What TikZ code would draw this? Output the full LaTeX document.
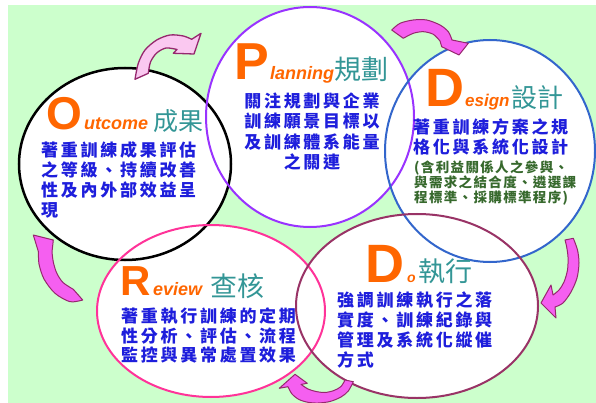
\documentclass[tikz,border=0pt]{standalone}
\usepackage{fontspec}
\setmainfont{Liberation Sans}
\newfontfamily\cjk{Noto Sans CJK TC}
\newfontfamily\cjkbody{Noto Sans CJK TC}[LetterSpace=16]
\newfontfamily\cjknote{Noto Sans CJK TC}[LetterSpace=10]
\definecolor{bggreen}{RGB}{204,255,204}
\definecolor{myorange}{RGB}{255,102,0}
\definecolor{myteal}{RGB}{51,150,150}
\definecolor{myblue}{RGB}{30,30,220}
\definecolor{mygreen}{RGB}{55,105,45}
\definecolor{rpurple}{RGB}{153,51,255}
\definecolor{rblue}{RGB}{51,102,204}
\definecolor{rpink}{RGB}{255,51,153}
\definecolor{rmaroon}{RGB}{153,51,102}
\definecolor{amag}{RGB}{245,95,240}
\definecolor{apale}{RGB}{250,200,240}
\definecolor{aedge}{RGB}{150,40,110}
\tikzset{
  bigl/.style={font=\bfseries\fontsize{#1}{#1}\selectfont, text=myorange, inner sep=0pt, anchor=base west},
  smalll/.style={font=\bfseries\itshape\fontsize{#1}{#1}\selectfont, text=myorange, inner sep=0pt, anchor=base west},
  ctitle/.style={font=\cjk\fontsize{#1}{#1}\selectfont, text=myteal, inner sep=0pt, anchor=base west},
  body/.style={font=\cjkbody\bfseries\fontsize{17}{17}\selectfont, text=myblue, inner sep=0pt, anchor=base west},
  bodyc/.style={body, anchor=base},
  note/.style={font=\cjknote\bfseries\fontsize{13.5}{13.5}\selectfont, text=mygreen, inner sep=0pt, anchor=base west},
  ringfill/.style={fill=white},
  ring/.style={line width=2pt},
  arr/.style={fill=amag, draw=aedge, line width=1pt, line join=round},
  arrpale/.style={fill=apale, draw=aedge, line width=1.3pt, line join=round},
}
\begin{document}
\begin{tikzpicture}[x=1pt,y=-1pt]
\useasboundingbox (0,0) rectangle (596,403);
\fill[bggreen] (8,5) rectangle (596,403);
% ellipse fills
\fill[ringfill] (125,164) ellipse [x radius=106, y radius=96];
\fill[ringfill] (310,117) ellipse [x radius=104, y radius=110];
\fill[ringfill] (490,151) ellipse [x radius=105, y radius=111];
\fill[ringfill] (211,311) ellipse [x radius=114, y radius=86];
\fill[ringfill] (417,306) ellipse [x radius=121, y radius=92];
% ellipse outlines
\draw[ring, line width=2.5pt, black] (125,164) ellipse [x radius=106, y radius=96];
\draw[ring, rpurple] (310,117) ellipse [x radius=104, y radius=110];
\draw[ring, rblue] (490,151) ellipse [x radius=105, y radius=111];
\draw[ring, rpink] (211,311) ellipse [x radius=114, y radius=86];
\draw[ring, rmaroon] (417,306) ellipse [x radius=121, y radius=92];
% arrows
\filldraw[arrpale] plot[smooth] coordinates {(135,79.3) (138.3,63.3) (145,50) (156.7,40) (170,35) (183.3,36) (191.7,39.3)}
  -- (201,33.3) -- (194,54) -- (173.3,53.3)
  -- plot[smooth] coordinates {(177,49.5) (166,48) (156.7,53) (150.5,62) (148.3,73.3)} -- cycle;
\filldraw[arr] plot[smooth] coordinates {(391.7,30) (400,23.3) (413.3,20) (426.7,20) (440,25) (448.3,31.7) (452,40)}
  -- (468.3,43.3) -- (459,55) -- (441.7,46.7)
  -- plot[smooth] coordinates {(440,41) (433.3,34.3) (423.3,31.7) (413.3,33.3) (403.3,38.3)} -- cycle;
\filldraw[arr] plot[smooth] coordinates {(573.3,238.3) (577.5,250) (579,263) (577,278) (571,292) (563,303) (555,307)}
  -- (556,318) -- (541,303) -- (551,285)
  -- plot[smooth] coordinates {(553,295) (559,290) (564,282) (567.5,270) (568,257) (566.5,246) (565,240)} -- cycle;
\filldraw[arr] plot[smooth] coordinates {(288,386.7) (292,394) (299,399.5) (308,402.3) (318,403) (330,401.5) (341,397) (348.3,391) (353.3,381.7)}
  -- plot[smooth] coordinates {(345,380) (341,386.5) (334,390.5) (325,392.5) (316,391.5) (308,389) (301,384.4)}
  -- (307.3,383.3) -- (295,374.3) -- (279.3,388.3) -- cycle;
\filldraw[arr] plot[smooth] coordinates {(82.7,300) (70,301.7) (55,293.3) (44,279) (39,264) (38.5,252)}
  -- (33.3,235) -- (53.3,240) -- (52,252)
  -- plot[smooth] coordinates {(52,252) (53.3,262) (56.7,273) (63,282.5) (73.3,289.3)} -- cycle;
% Outcome
\node[bigl=46] (oO) at (46,130) {O};
\node[smalll=18] (oU) at (84,130) {utcome};
\node[ctitle=25] (oC) at (153,131) {成果};
\node[body] (o1) at (41,156.5) {著重訓練成果評估};
\node[body] (o2) at (41,176.5) {之等級、持續改善};
\node[body] (o3) at (41,196.5) {性及內外部效益呈};
\node[body] (o4) at (41,216.5) {現};
% Planning
\node[bigl=52] (pP) at (234,80) {P};
\node[smalll=18] (pL) at (270,80) {lanning};
\node[ctitle=27] (pC) at (334,80) {規劃};
\node[bodyc] (p1) at (312,107.5) {關注規劃與企業};
\node[bodyc] (p2) at (312,128) {訓練願景目標以};
\node[bodyc] (p3) at (312,148.5) {及訓練體系能量};
\node[bodyc] (p4) at (312,168.5) {之關連};
% Design
\node[bigl=54] (dD) at (425,107) {D};
\node[smalll=17] (dE) at (465,107) {esign};
\node[ctitle=26] (dC) at (511,108) {設計};
\node[body] (d1) at (413,133.5) {著重訓練方案之規};
\node[body] (d2) at (413,153.5) {格化與系統化設計};
\node[note] (d3) at (414,172.5) {(含利益關係人之參與、};
\node[note] (d4) at (414,187.5) {與需求之結合度、遴選課};
\node[note] (d5) at (414,202.5) {程標準、採購標準程序)};
% Review
\node[bigl=42] (rR) at (120,295) {R};
\node[smalll=18] (rE) at (153,295) {eview};
\node[ctitle=27] (rC) at (210,296) {查核};
\node[body] (r1) at (121,322.5) {著重執行訓練的定期};
\node[body] (r2) at (121,342.5) {性分析、評估、流程};
\node[body] (r3) at (121,361.5) {監控與異常處置效果};
% Do
\node[bigl=54] (xD) at (365,282) {D};
\node[smalll=14] (xO) at (407,282) {o};
\node[ctitle=27] (xC) at (418,281) {執行};
\node[body] (x1) at (337,306.5) {強調訓練執行之落};
\node[body] (x2) at (337,326.5) {實度、訓練紀錄與};
\node[body] (x3) at (337,346.5) {管理及系統化縱催};
\node[body] (x4) at (337,366.5) {方式};
\end{tikzpicture}
\end{document}
